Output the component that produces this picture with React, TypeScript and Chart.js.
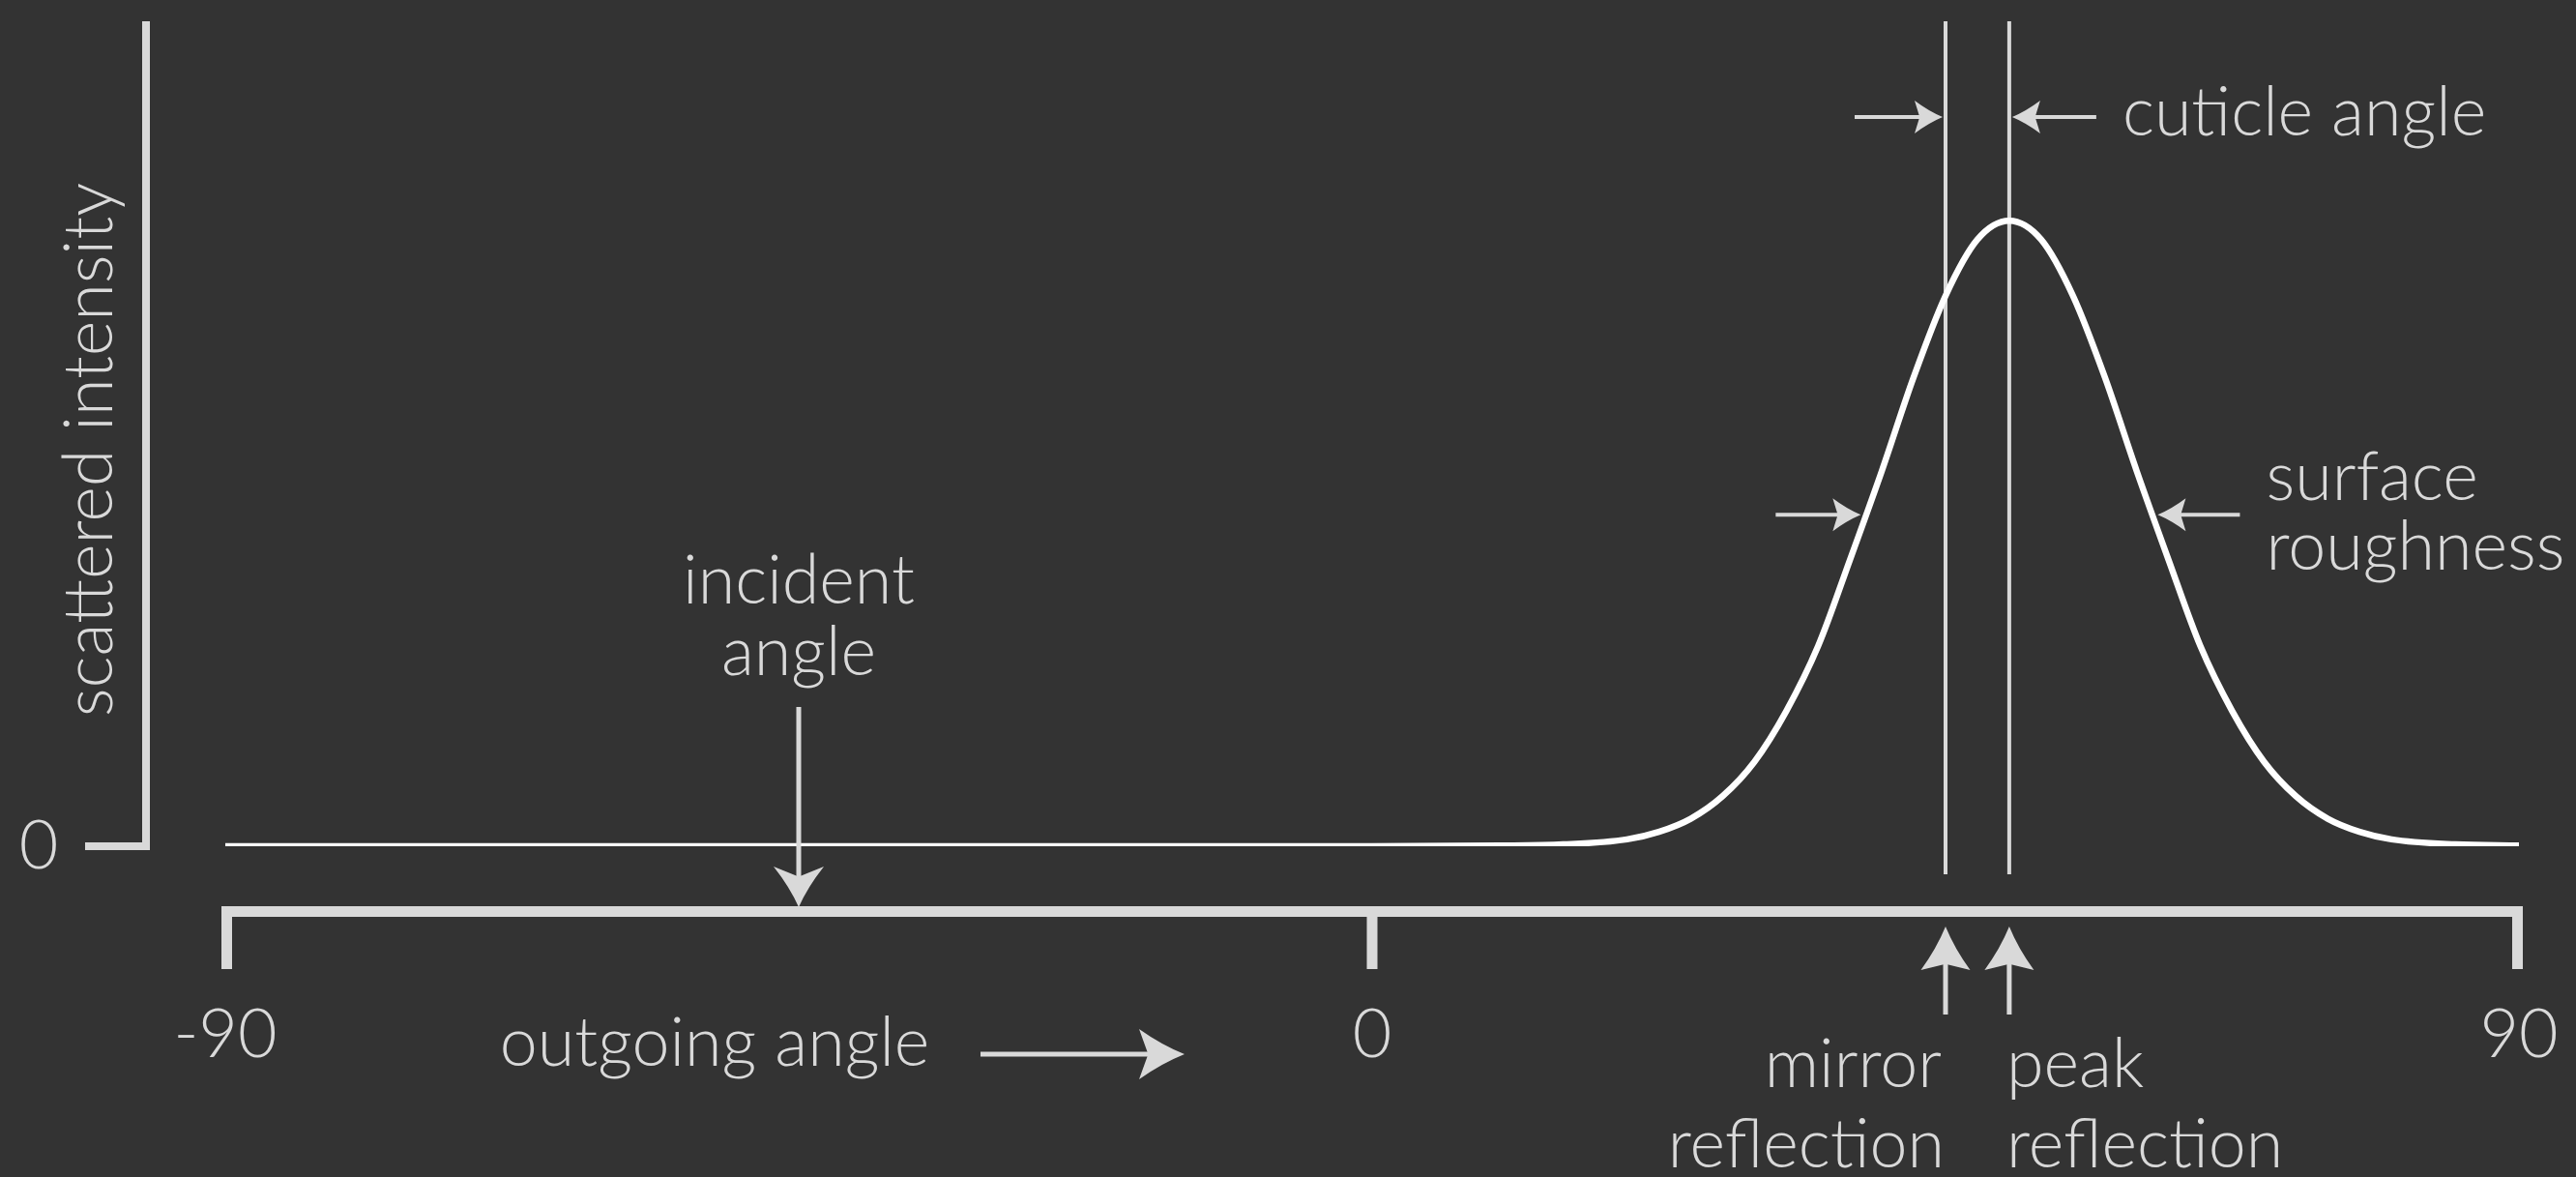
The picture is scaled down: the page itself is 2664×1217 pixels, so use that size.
import React, { useEffect, useRef } from "react";
import { Chart, registerables } from "chart.js";

Chart.register(...registerables);

// ---- data ----
const angles = [-90, -60, -30, 0, 10, 15, 20, 22.5, 25, 27.5, 30, 32.5, 35, 37.5, 40, 42.5, 45, 47.5, 50, 52.5, 55, 57.5, 60, 62.5, 65, 67.5, 70, 72.5, 75, 77.5, 80, 85, 90];
const intensity = [0, 0, 0, 0, 0.001, 0.003, 0.011, 0.023, 0.044, 0.08, 0.135, 0.216, 0.32, 0.458, 0.6, 0.75, 0.88, 0.97, 1, 0.97, 0.88, 0.75, 0.6, 0.458, 0.32, 0.216, 0.135, 0.08, 0.044, 0.023, 0.011, 0.003, 0.001];

const xTickValues = [-90, 0, 90];
const xTickLabels = ["-90", "0", "90"];
const yTickValues = [0];
const yTickLabels = ["0"];

const incidentAngle = -45;
const mirrorAngle = 45;
const peakAngle = 50;
const roughnessAngles = [38.5, 61.5];
const roughnessLevel = 0.53;

const xAxisTitle = "outgoing angle";
const yAxisTitle = "scattered intensity";
const incidentLabel = ["incident", "angle"];
const mirrorLabel = ["mirror", "reflection"];
const peakLabel = ["peak", "reflection"];
const cuticleLabel = "cuticle angle";
const roughnessLabel = ["surface", "roughness"];

const X_MIN = -90;
const X_MAX = 90;
const Y_MAX = 1.319;

const BG = "#333333";
const GREY = "#d9d9d9";
const FONT = "300 70px Lato, 'Open Sans', sans-serif";

function arrow(ctx: CanvasRenderingContext2D, x1: number, y1: number, x2: number, y2: number, lw: number, hl: number, hw: number, notch = 0.82) {
  const dx = x2 - x1, dy = y2 - y1;
  const len = Math.hypot(dx, dy);
  const ux = dx / len, uy = dy / len;
  const px = -uy, py = ux;
  ctx.strokeStyle = GREY;
  ctx.fillStyle = GREY;
  ctx.lineWidth = lw;
  ctx.lineCap = "butt";
  const nx = x2 - ux * hl * notch, ny = y2 - uy * hl * notch;
  ctx.beginPath();
  ctx.moveTo(x1, y1);
  ctx.lineTo(nx + ux * 2, ny + uy * 2);
  ctx.stroke();
  const bx = x2 - ux * hl, by = y2 - uy * hl;
  const c1x = bx + px * hw / 2, c1y = by + py * hw / 2;
  const c2x = bx - px * hw / 2, c2y = by - py * hw / 2;
  const inset = hw * 0.07;
  ctx.beginPath();
  ctx.moveTo(x2, y2);
  let mx = (x2 + c1x) / 2 - px * inset, my = (y2 + c1y) / 2 - py * inset;
  ctx.quadraticCurveTo(mx, my, c1x, c1y);
  ctx.lineTo(nx, ny);
  ctx.lineTo(c2x, c2y);
  mx = (x2 + c2x) / 2 + px * inset;
  my = (y2 + c2y) / 2 + py * inset;
  ctx.quadraticCurveTo(mx, my, x2, y2);
  ctx.closePath();
  ctx.fill();
}

const decor = {
  id: "decor",
  beforeDraw(chart: any) {
    const ctx = chart.ctx;
    ctx.save();
    ctx.fillStyle = BG;
    ctx.fillRect(0, 0, chart.width, chart.height);
    ctx.restore();
  },
  beforeDatasetsDraw(chart: any) {
    const { ctx, scales } = chart;
    const x = scales.x, y = scales.y;
    const y0 = y.getPixelForValue(0);
    const top = y.getPixelForValue(Y_MAX);
    ctx.save();
    ctx.strokeStyle = GREY;
    ctx.lineWidth = 4;
    [mirrorAngle, peakAngle].forEach((a) => {
      const px = x.getPixelForValue(a);
      ctx.beginPath();
      ctx.moveTo(px, top);
      ctx.lineTo(px, y0 + 29);
      ctx.stroke();
    });
    ctx.restore();
  },
  afterDatasetsDraw(chart: any) {
    const { ctx, scales } = chart;
    const x = scales.x, y = scales.y;
    const y0 = y.getPixelForValue(0);
    const top = y.getPixelForValue(Y_MAX);
    const xl = x.getPixelForValue(X_MIN);
    const xr = x.getPixelForValue(X_MAX);
    ctx.save();
    ctx.fillStyle = GREY;

    // y axis
    const yAxisX = xl - 82;
    ctx.fillRect(yAxisX - 4, top, 8, y0 - top + 4);
    yTickValues.forEach((v) => {
      const py = y.getPixelForValue(v);
      ctx.fillRect(yAxisX - 63, py - 4, 67, 8);
    });

    // x axis bar + ticks
    const barTop = y0 + 62;
    ctx.fillRect(xl - 4, barTop, xr - xl + 8, 11);
    xTickValues.forEach((v, i) => {
      const px = x.getPixelForValue(v);
      const off = i === 0 ? 1.5 : i === xTickValues.length - 1 ? -1.5 : 0;
      ctx.fillRect(px - 5.5 + off, barTop, 11, 65);
    });

    // text
    ctx.font = FONT;
    ctx.fillStyle = GREY;
    ctx.textBaseline = "middle";
    ctx.textAlign = "center";
    xTickValues.forEach((v, i) => {
      ctx.fillText(xTickLabels[i], x.getPixelForValue(v), y0 + 195);
    });
    yTickValues.forEach((v, i) => {
      ctx.fillText(yTickLabels[i], 40, y.getPixelForValue(v));
    });
    ctx.fillText(xAxisTitle, 739, y0 + 204);
    ctx.save();
    ctx.translate(93, 465);
    ctx.rotate(-Math.PI / 2);
    ctx.fillText(yAxisTitle, 0, 0);
    ctx.restore();

    // incident
    const ix = x.getPixelForValue(incidentAngle);
    ctx.fillText(incidentLabel[0], ix, 601);
    ctx.fillText(incidentLabel[1], ix, 675);
    arrow(ctx, ix, 731, ix, barTop + 1, 5, 42, 52, 0.75);

    // outgoing arrow
    arrow(ctx, 1014, y0 + 215, 1225, y0 + 215, 5, 47, 52, 0.8);

    // mirror / peak
    const mx = x.getPixelForValue(mirrorAngle);
    const pk = x.getPixelForValue(peakAngle);
    arrow(ctx, mx, y0 + 174, mx, y0 + 83, 5, 45, 51, 0.86);
    arrow(ctx, pk, y0 + 174, pk, y0 + 83, 5, 45, 51, 0.86);
    ctx.textAlign = "right";
    ctx.fillText(mirrorLabel[0], mx - 4, y0 + 226);
    ctx.fillText(mirrorLabel[1], mx - 1, y0 + 309);
    ctx.textAlign = "left";
    ctx.fillText(peakLabel[0], pk - 3, y0 + 226);
    ctx.fillText(peakLabel[1], pk - 3, y0 + 309);

    // cuticle angle
    const cy = 121;
    arrow(ctx, mx - 94, cy, mx - 3, cy, 4, 29, 34);
    arrow(ctx, pk + 90, cy, pk + 3, cy, 4, 29, 34);
    ctx.fillText(cuticleLabel, pk + 117, cy - 4);

    // roughness
    const ry = y.getPixelForValue(roughnessLevel);
    const r1 = x.getPixelForValue(roughnessAngles[0]);
    const r2 = x.getPixelForValue(roughnessAngles[1]);
    arrow(ctx, r1 - 90, ry, r1 - 2, ry, 4, 29, 34);
    arrow(ctx, r2 + 87, ry, r2 + 2, ry, 4, 29, 34);
    ctx.fillText(roughnessLabel[0], r2 + 114, ry - 38);
    ctx.fillText(roughnessLabel[1], r2 + 114, ry + 34);

    ctx.restore();
  },
};

export default function App() {
  const ref = useRef<HTMLCanvasElement>(null);
  useEffect(() => {
    document.body.style.margin = "0";
    document.body.style.background = BG;
    const points = angles.map((a, i) => ({ x: a, y: intensity[i] }));
    const chart = new Chart(ref.current!, {
      type: "line",
      data: {
        datasets: [
          {
            data: points,
            borderColor: "#ffffff",
            borderWidth: 6.5,
            pointRadius: 0,
            cubicInterpolationMode: "monotone",
            fill: false,
          },
        ],
      },
      options: {
        animation: false,
        responsive: false,
        devicePixelRatio: 1,
        layout: { padding: { left: 233, right: 59, top: 22, bottom: 342 } },
        plugins: { legend: { display: false }, tooltip: { enabled: false } },
        scales: {
          x: { type: "linear", min: X_MIN, max: X_MAX, display: false },
          y: { type: "linear", min: 0, max: Y_MAX, display: false },
        },
      },
      plugins: [decor],
    });
    return () => chart.destroy();
  }, []);
  return (
    <div style={{ position: "absolute", left: 0, top: 0, width: 2664, height: 1217, background: BG }}>
      <canvas ref={ref} width={2664} height={1217} style={{ display: "block" }} />
    </div>
  );
}
